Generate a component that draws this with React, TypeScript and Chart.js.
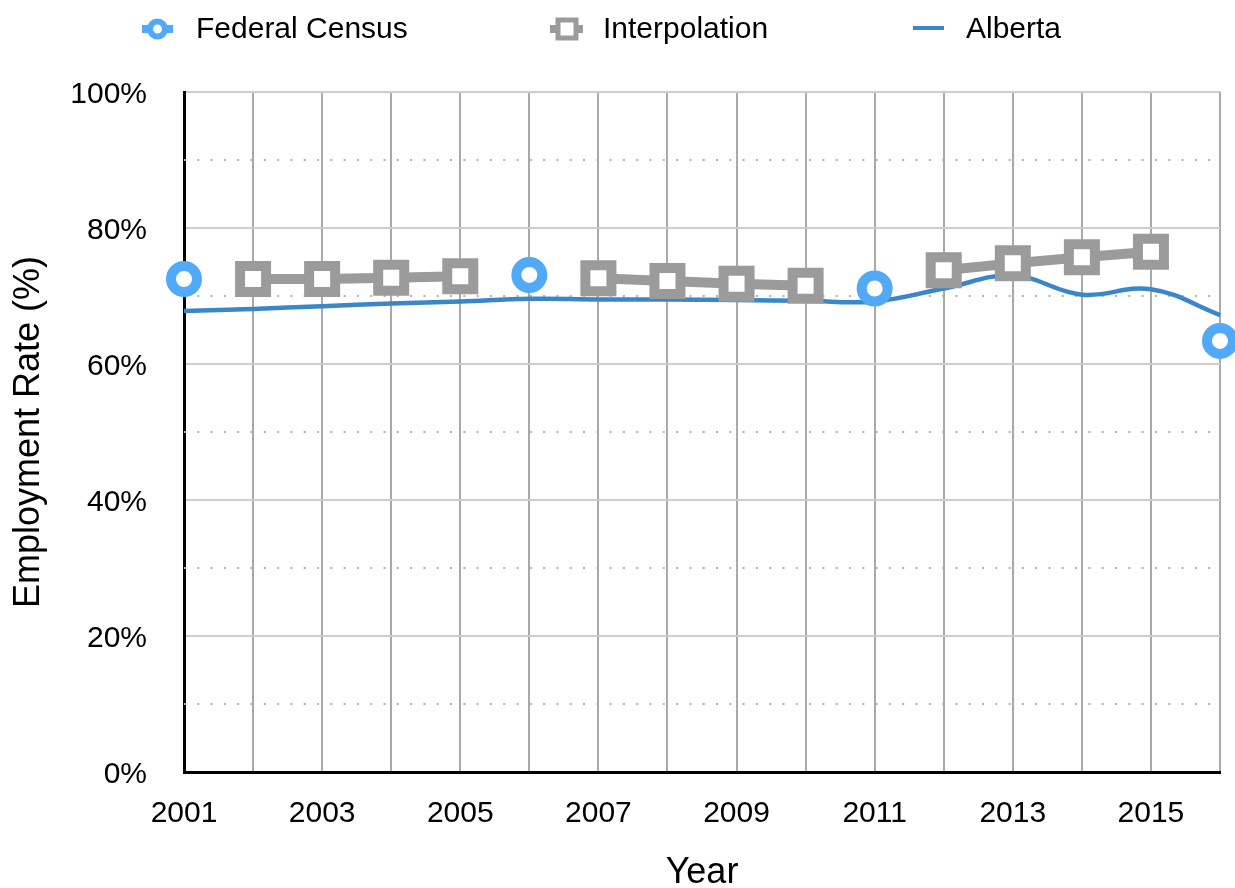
import React, { useEffect, useRef } from "react";
import { Chart, registerables } from "chart.js";

Chart.register(...registerables);

const years = ["2001","2002","2003","2004","2005","2006","2007","2008","2009","2010","2011","2012","2013","2014","2015","2016"];
const federalCensus = [72.5, null, null, null, null, 73.1, null, null, null, null, 71.1, null, null, null, null, 63.4];
const interpolation = [null, 72.5, 72.5, 72.7, 72.9, null, 72.6, 72.2, 71.8, 71.5, null, 73.8, 74.8, 75.7, 76.5, null];
const alberta = [67.8, 68.1, 68.5, 68.9, 69.2, 69.6, 69.5, 69.5, 69.4, 69.3, 69.2, 71.1, 73.0, 70.2, 71.0, 67.2];
const yTicks = [0, 20, 40, 60, 80, 100];
const dottedLevels = [10, 30, 50, 70, 90];

const FONT = '"Liberation Sans", Arial, Helvetica, sans-serif';
const CENSUS = "#52a9f7";
const GRAY = "#9b9b9b";
const ALBERTA = "#3a86c9";

const dottedPlugin = {
  id: "dotted",
  beforeDatasetsDraw(chart: any) {
    const { ctx, chartArea, scales } = chart;
    ctx.save();
    ctx.strokeStyle = "#b0b0b0";
    ctx.lineWidth = 2;
    ctx.setLineDash([2, 11.3]);
    dottedLevels.forEach((v) => {
      const y = Math.round(scales.y.getPixelForValue(v));
      ctx.beginPath();
      ctx.moveTo(chartArea.left, y);
      ctx.lineTo(chartArea.right, y);
      ctx.stroke();
    });
    ctx.restore();
  },
};

const legendPlugin = {
  id: "customLegend",
  afterDraw(chart: any) {
    const ctx = chart.ctx;
    ctx.save();
    // Federal Census
    ctx.strokeStyle = CENSUS;
    ctx.lineWidth = 8;
    ctx.beginPath();
    ctx.moveTo(142, 29);
    ctx.lineTo(173, 29);
    ctx.stroke();
    ctx.lineWidth = 6;
    ctx.fillStyle = "#fff";
    ctx.beginPath();
    ctx.arc(157.5, 29, 7.5, 0, Math.PI * 2);
    ctx.fill();
    ctx.stroke();
    // Interpolation
    ctx.strokeStyle = GRAY;
    ctx.lineWidth = 8;
    ctx.beginPath();
    ctx.moveTo(550, 29);
    ctx.lineTo(583, 29);
    ctx.stroke();
    ctx.lineWidth = 5;
    ctx.beginPath();
    ctx.rect(567 - 9, 29 - 9, 18, 18);
    ctx.fill();
    ctx.stroke();
    // Alberta
    ctx.strokeStyle = ALBERTA;
    ctx.lineWidth = 4;
    ctx.beginPath();
    ctx.moveTo(913, 28);
    ctx.lineTo(944, 28);
    ctx.stroke();
    // Texts
    ctx.fillStyle = "#000";
    ctx.font = `30px ${FONT}`;
    ctx.textBaseline = "middle";
    ctx.textAlign = "left";
    ctx.fillText("Federal Census", 196, 30);
    ctx.fillText("Interpolation", 603, 30);
    ctx.fillText("Alberta", 966, 30);
    ctx.restore();
  },
};

export default function App() {
  const ref = useRef<HTMLCanvasElement>(null);
  useEffect(() => {
    document.body.style.margin = "0";
    const chart = new Chart(ref.current as HTMLCanvasElement, {
      type: "line",
      data: {
        labels: years,
        datasets: [
          {
            label: "Federal Census",
            data: federalCensus,
            showLine: false,
            pointStyle: "circle",
            pointRadius: 13,
            pointHoverRadius: 13,
            pointBorderWidth: 10,
            pointBorderColor: CENSUS,
            pointBackgroundColor: "#ffffff",
            borderColor: CENSUS,
            backgroundColor: "#ffffff",
            clip: false,
          },
          {
            label: "Interpolation",
            data: interpolation,
            spanGaps: false,
            tension: 0,
            borderColor: GRAY,
            borderWidth: 10,
            pointStyle: "rect",
            pointRadius: 18.4,
            pointHoverRadius: 18.4,
            pointBorderWidth: 10,
            pointBorderColor: GRAY,
            pointBackgroundColor: "#ffffff",
            backgroundColor: "#ffffff",
            clip: false,
          },
          {
            label: "Alberta",
            data: alberta,
            tension: 0.4,
            borderColor: ALBERTA,
            borderWidth: 4.5,
            pointRadius: 0,
            pointHoverRadius: 0,
            clip: false,
          },
        ],
      } as any,
      options: {
        animation: false,
        responsive: false,
        devicePixelRatio: 1,
        layout: { autoPadding: false, padding: { top: 92, right: 15, left: 0, bottom: 0 } },
        plugins: { legend: { display: false }, tooltip: { enabled: false } },
        scales: {
          x: {
            type: "category",
            offset: false,
            grid: { color: "#a9a9a9", lineWidth: 2, drawTicks: false },
            border: { color: "#000", width: 3 },
            ticks: {
              color: "#000",
              font: { family: FONT, size: 30 },
              padding: 24,
              autoSkip: false,
              maxRotation: 0,
              minRotation: 0,
              callback: (_v: any, i: number) => (i % 2 === 0 ? years[i] : ""),
            },
            title: {
              display: true,
              text: "Year",
              color: "#000",
              font: { family: FONT, size: 36, lineHeight: 0.85 },
              padding: { top: 0, bottom: 0 },
            },
            afterFit: (s: any) => {
              s.height = 116;
              s.paddingRight = 0;
              s.paddingLeft = 0;
            },
          },
          y: {
            min: 0,
            max: 100,
            afterBuildTicks: (s: any) => {
              s.ticks = yTicks.map((v) => ({ value: v }));
            },
            grid: { color: "#cdcdcd", lineWidth: 2, drawTicks: false },
            border: { color: "#000", width: 3 },
            ticks: {
              color: "#000",
              font: { family: FONT, size: 30 },
              padding: 37,
              labelOffset: 3,
              callback: (v: any) => v + "%",
            },
            title: {
              display: true,
              text: "Employment Rate (%)",
              color: "#000",
              font: { family: FONT, size: 36, lineHeight: 1 },
              padding: { top: 11, bottom: 0 },
            },
            afterFit: (s: any) => {
              s.width = 184;
              s.paddingTop = 0;
              s.paddingBottom = 0;
            },
          },
        },
      } as any,
      plugins: [dottedPlugin, legendPlugin],
    });
    return () => chart.destroy();
  }, []);
  return (
    <div style={{ position: "absolute", left: 0, top: 0, width: 1235, height: 888 }}>
      <canvas ref={ref} width={1235} height={888} style={{ width: 1235, height: 888 }} />
    </div>
  );
}
